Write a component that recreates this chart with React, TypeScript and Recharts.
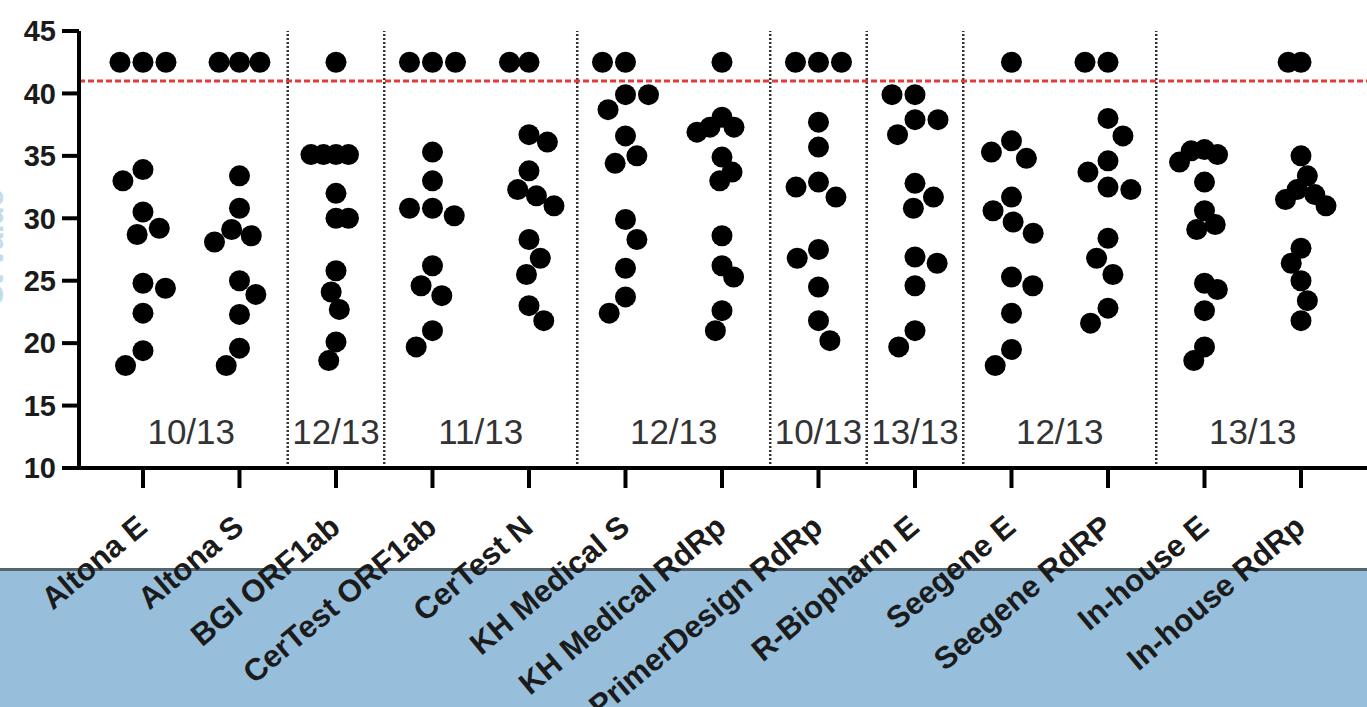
import { ScatterChart, Scatter, XAxis, YAxis, ReferenceLine, ReferenceDot } from 'recharts'

// Ct values per assay; 42.5 = not detected (plotted above the cut-off)
const assays = [
  'Altona E',
  'Altona S',
  'BGI ORF1ab',
  'CerTest ORF1ab',
  'CerTest N',
  'KH Medical S',
  'KH Medical RdRp',
  'PrimerDesign RdRp',
  'R-Biopharm E',
  'Seegene E',
  'Seegene RdRP',
  'In-house E',
  'In-house RdRp',
]

const altonaE = [42.5, 42.5, 42.5, 33.9, 33.0, 30.5, 29.2, 28.7, 24.8, 24.4, 22.4, 19.4, 18.2]
const altonaS = [42.5, 42.5, 42.5, 33.4, 30.8, 29.1, 28.6, 28.1, 25.0, 23.9, 22.3, 19.6, 18.2]
const bgiOrf1ab = [42.5, 35.1, 35.1, 35.1, 35.1, 32.0, 30.0, 30.0, 25.8, 24.1, 22.7, 20.1, 18.6]
const certestOrf1ab = [42.5, 42.5, 42.5, 35.3, 33.0, 30.8, 30.8, 30.2, 26.2, 24.6, 23.8, 21.0, 19.7]
const certestN = [42.5, 42.5, 36.7, 36.1, 33.8, 32.3, 31.8, 31.0, 28.3, 26.8, 25.5, 23.0, 21.8]
const khMedicalS = [42.5, 42.5, 39.9, 39.9, 38.7, 36.6, 35.0, 34.4, 29.9, 28.3, 26.0, 23.7, 22.4]
const khMedicalRdRp = [42.5, 38.1, 37.3, 37.3, 36.9, 34.9, 33.7, 33.0, 28.6, 26.2, 25.3, 22.6, 21.0]
const primerDesignRdRp = [42.5, 42.5, 42.5, 37.7, 35.7, 32.9, 32.5, 31.7, 27.5, 26.8, 24.5, 21.8, 20.2]
const rBiopharmE = [39.9, 39.9, 37.9, 37.9, 36.7, 32.8, 31.7, 30.8, 26.9, 26.4, 24.6, 21.0, 19.7]
const seegeneE = [42.5, 36.2, 35.3, 34.8, 31.7, 30.6, 29.7, 28.8, 25.3, 24.6, 22.4, 19.5, 18.2]
const seegeneRdRP = [42.5, 42.5, 38.0, 36.6, 34.6, 33.7, 32.5, 32.3, 28.4, 26.8, 25.5, 22.8, 21.6]
const inhouseE = [35.5, 35.4, 35.1, 34.5, 32.9, 30.6, 29.5, 29.1, 24.8, 24.3, 22.6, 19.7, 18.6]
const inhouseRdRp = [42.5, 42.5, 35.0, 33.4, 32.3, 31.9, 31.5, 31.0, 27.6, 26.4, 25.0, 23.4, 21.8]

const ctValues = [
  altonaE, altonaS, bgiOrf1ab, certestOrf1ab, certestN, khMedicalS, khMedicalRdRp,
  primerDesignRdRp, rBiopharmE, seegeneE, seegeneRdRP, inhouseE, inhouseRdRp,
]

// kits: how many assays each covers, and detected/total
const kitSizes = [2, 1, 2, 2, 1, 1, 2, 2]
const kitLabels = ['10/13', '12/13', '11/13', '12/13', '10/13', '13/13', '12/13', '13/13']

const cutoff = 41
const yTicks = [10, 15, 20, 25, 30, 35, 40, 45]

const W = 1367
const H = 707
const TOP = 31
const Y_AXIS_W = 79
const X_AXIS_H = 239
const X_DOMAIN: [number, number] = [0.337, 13.684]
const PX_PER_X = (W - Y_AXIS_W) / (X_DOMAIN[1] - X_DOMAIN[0])
const PX_PER_Y = (H - TOP - X_AXIS_H) / 35

const DOT_R = 10.5
const GAP = 23
const MAX_HALF = 25
const FONT = "'Liberation Sans', Arial, Helvetica, sans-serif"

// simple beeswarm: place each dot as close to the centre as it can go without overlap
function swarm(values: number[]): number[] {
  const order = values.map((_, i) => i).sort((a, b) => values[b] - values[a])
  const placed: { x: number; y: number }[] = []
  const xs = new Array(values.length).fill(0)
  let flip = false
  order.forEach((i) => {
    const y = values[i] * PX_PER_Y
    const near = placed.filter((p) => Math.abs(p.y - y) < GAP)
    const cands = [0]
    near.forEach((p) => {
      const dx = Math.sqrt(GAP * GAP - (p.y - y) ** 2)
      cands.push(p.x - dx, p.x + dx)
    })
    cands.sort((a, b) => Math.abs(a) - Math.abs(b) || (flip ? b - a : a - b))
    const x = cands.find((c) => near.every((p) => (p.x - c) ** 2 + (p.y - y) ** 2 >= GAP * GAP - 0.01)) ?? 0
    if (x !== 0) flip = !flip
    xs[i] = x
    placed.push({ x, y })
  })
  const m = Math.max(...xs.map((x) => Math.abs(x)))
  const k = m > MAX_HALF ? MAX_HALF / m : 1
  return xs.map((x) => x * k)
}

const points = ctValues.flatMap((vals, i) => {
  const offs = swarm(vals)
  return vals.map((v, j) => ({ x: i + 1 + offs[j] / PX_PER_X, y: v }))
})

const separators: number[] = []
const kitCenters: number[] = []
kitSizes.reduce((start, size, k) => {
  kitCenters.push(start + (size + 1) / 2)
  if (k < kitSizes.length - 1) separators.push(start + size + 0.5)
  return start + size
}, 0)

const Dot = (props: any) => <circle cx={props.cx} cy={props.cy} r={DOT_R} fill="#000" />

const AssayTick = (props: any) => {
  const { x, y, payload } = props
  const px = x + 6
  const py = y + 40
  return (
    <text
      x={px}
      y={py}
      transform={`rotate(-40 ${px} ${py})`}
      textAnchor="end"
      fontFamily={FONT}
      fontWeight="bold"
      fontSize={31}
      fill="#1b1b1b"
    >
      {assays[payload.value - 1]}
    </text>
  )
}

// axis title, mostly cut off by the left edge of the picture
const CtLabel = () => (
  <text
    x={3}
    y={248}
    transform="rotate(-90 3 248)"
    textAnchor="middle"
    fontFamily={FONT}
    fontWeight="bold"
    fontSize={30}
    fill="#c3dbeb"
  >
    Ct value
  </text>
)

export default function App() {
  return (
    <div style={{ position: 'absolute', left: 0, top: 0, width: W, height: H, background: '#fff', overflow: 'hidden' }}>
      <div
        style={{
          position: 'absolute',
          left: 0,
          top: 568,
          width: W,
          height: 136,
          background: '#97bfdb',
          borderTop: '3px solid #55656f',
        }}
      />
      <div style={{ position: 'absolute', left: 0, top: 0 }}>
        <ScatterChart width={W} height={H} margin={{ top: TOP, right: 0, bottom: 0, left: 0 }}>
          <XAxis
            type="number"
            dataKey="x"
            domain={X_DOMAIN}
            allowDataOverflow
            ticks={assays.map((_, i) => i + 1)}
            interval={0}
            height={X_AXIS_H}
            tickSize={20}
            axisLine={{ stroke: '#000', strokeWidth: 4 }}
            tickLine={{ stroke: '#000', strokeWidth: 4 }}
            tick={<AssayTick />}
          />
          <YAxis
            type="number"
            dataKey="y"
            domain={[10, 45]}
            allowDataOverflow
            ticks={yTicks}
            interval={0}
            width={Y_AXIS_W}
            tickSize={17}
            tickMargin={6}
            axisLine={{ stroke: '#000', strokeWidth: 4 }}
            tickLine={{ stroke: '#000', strokeWidth: 4 }}
            tick={{ fill: '#1b1b1b', fontSize: 29, fontWeight: 'bold', fontFamily: FONT }}
            label={<CtLabel />}
          />
          {separators.map((s) => (
            <ReferenceLine key={s} x={s} stroke="#333" strokeWidth={2.5} strokeDasharray="2 2" />
          ))}
          <ReferenceLine y={cutoff} stroke="#e03c3c" strokeWidth={3} strokeDasharray="6 3" />
          {kitCenters.map((c, k) => (
            <ReferenceDot
              key={k}
              x={c}
              y={12.9}
              r={0}
              shape={(p: any) => (
                <text
                  x={p.cx}
                  y={p.cy}
                  textAnchor="middle"
                  dominantBaseline="central"
                  fontFamily={FONT}
                  fontSize={35}
                  fill="#333"
                >
                  {kitLabels[k]}
                </text>
              )}
            />
          ))}
          <Scatter data={points} shape={<Dot />} isAnimationActive={false} />
        </ScatterChart>
      </div>
    </div>
  )
}
